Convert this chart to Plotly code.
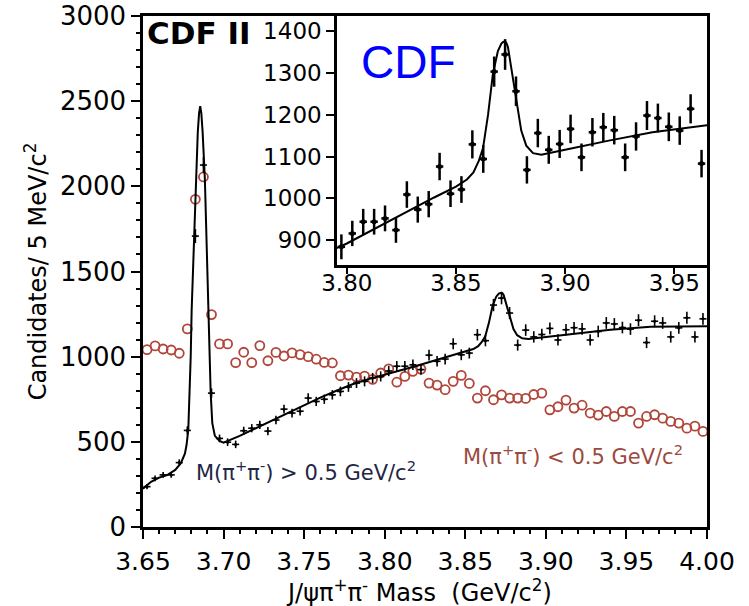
import numpy as np
import plotly.graph_objects as go

# 5 MeV/c^2 bins from 3.65 to 4.00 GeV/c^2
bin_edges = np.arange(3.65, 4.0001, 0.005)
mass = (bin_edges[:-1] + bin_edges[1:]) / 2

# Candidates per bin, M(pi+pi-) > 0.5 GeV/c^2
counts_high = [
    237, 286, 306, 306, 378, 567, 1708, 2125, 786, 520,
    498, 485, 565, 580, 600, 563, 628, 692, 669, 680,
    757, 737, 750, 776, 796, 822, 845, 855, 875, 884,
    916, 944, 944, 952, 924, 1009, 973, 986, 1076, 1011,
    1021, 1129, 1094, 1303, 1344, 1256, 1068, 1156, 1116, 1130,
    1166, 1098, 1158, 1170, 1163, 1098, 1148, 1198, 1192, 1171,
    1162, 1214, 1083, 1208, 1198, 1116, 1169, 1228, 1116, 1222,
]

# Candidates per bin, M(pi+pi-) < 0.5 GeV/c^2
counts_low = [
    1041, 1063, 1045, 1039, 1020, 1163, 1924, 2055, 1247, 1075,
    1075, 965, 1026, 965, 1065, 976, 1025, 1004, 1022, 1012,
    1000, 985, 966, 963, 888, 892, 880, 886, 867, 904,
    928, 850, 884, 914, 927, 845, 833, 806, 855, 890,
    843, 757, 800, 747, 776, 757, 757, 755, 778, 786,
    688, 706, 745, 698, 715, 669, 657, 678, 649, 678,
    678, 610, 649, 659, 639, 620, 610, 580, 592, 561,
]

# Fitted line shape for the M(pi+pi-) > 0.5 sample
fit_mass = [
    3.650, 3.655, 3.660, 3.665, 3.670, 3.6735, 3.676, 3.677, 3.6781, 3.6790,
    3.6796, 3.6802, 3.6808, 3.6818, 3.6826, 3.6840, 3.6848, 3.6855, 3.6862, 3.6870,
    3.6884, 3.6892, 3.6902, 3.6908, 3.6914, 3.6920, 3.6930, 3.6946, 3.6975, 3.700,
    3.710, 3.720, 3.730, 3.740, 3.750, 3.760, 3.770, 3.780, 3.790, 3.800,
    3.810, 3.820, 3.830, 3.840, 3.850, 3.855, 3.858, 3.8605, 3.8624, 3.8647,
    3.8669, 3.8692, 3.8708, 3.8716, 3.8723, 3.8730, 3.8738, 3.8753, 3.8776, 3.8799,
    3.8822, 3.8853, 3.8891, 3.895, 3.900, 3.920, 3.940, 3.965, 3.980, 4.000,
]
fit_counts = [
    225, 265, 290, 305, 335, 375, 430, 480, 570, 786,
    1000, 1276, 1453, 1750, 2041, 2320, 2430, 2470, 2430, 2320,
    2041, 1750, 1453, 1276, 1000, 786, 610, 535, 505, 495,
    535, 580, 625, 670, 715, 760, 800, 838, 868, 892,
    920, 947, 975, 1002, 1028, 1045, 1062, 1090, 1120, 1200,
    1297, 1352, 1370, 1374, 1375, 1373, 1362, 1313, 1233, 1162,
    1126, 1108, 1104, 1110, 1116, 1138, 1158, 1175, 1177, 1178,
]

errors_high = np.sqrt(counts_high)

FONT = "DejaVu Sans"
INK = "black"
RED = "#b0453a"

fig = go.Figure()

# ---- main panel ----
fig.add_trace(go.Scatter(
    x=mass, y=counts_low, mode="markers",
    marker=dict(symbol="circle-open", size=9, color=RED, line=dict(width=1.8, color=RED)),
    xaxis="x", yaxis="y", hoverinfo="skip",
))
fig.add_trace(go.Scatter(
    x=fit_mass, y=fit_counts, mode="lines",
    line=dict(color=INK, width=2),
    xaxis="x", yaxis="y", hoverinfo="skip",
))
fig.add_trace(go.Scatter(
    x=mass, y=counts_high, mode="markers",
    marker=dict(size=3, color=INK),
    error_y=dict(type="data", array=errors_high, width=0, thickness=1.6, color=INK),
    error_x=dict(type="constant", value=0.0022, width=0, thickness=1.6, color=INK),
    xaxis="x", yaxis="y", hoverinfo="skip",
))

# ---- inset: zoom on 3.80 - 3.965 ----
fig.add_trace(go.Scatter(
    x=fit_mass, y=fit_counts, mode="lines",
    line=dict(color=INK, width=2),
    xaxis="x2", yaxis="y2", hoverinfo="skip", cliponaxis=True,
))
fig.add_trace(go.Scatter(
    x=mass, y=counts_high, mode="markers",
    marker=dict(size=5, color=INK),
    error_y=dict(type="data", array=errors_high, width=0, thickness=2.5, color=INK),
    error_x=dict(type="constant", value=0.0017, width=0, thickness=2.5, color=INK),
    xaxis="x2", yaxis="y2", hoverinfo="skip", cliponaxis=True,
))

inset_x = [3.7955, 3.965]
inset_y = [840.5, 1436]

# white backing for the inset, drawn in the inset's own layer
fig.add_shape(type="rect", xref="x2", yref="y2",
              x0=inset_x[0], x1=inset_x[1], y0=inset_y[0], y1=inset_y[1],
              fillcolor="white", line=dict(width=0), layer="below")

axis_common = dict(
    showgrid=False, zeroline=False, showline=True, linecolor=INK,
    ticks="outside", tickcolor=INK,
)

fig.update_layout(
    width=749, height=606,
    margin=dict(l=143, r=42, t=16, b=79),
    paper_bgcolor="white", plot_bgcolor="white",
    showlegend=False,
    font=dict(family=FONT, color=INK),
    xaxis=dict(
        **axis_common, domain=[0, 1], range=[3.65, 4.0],
        tick0=3.65, dtick=0.05, tickformat=".2f",
        linewidth=2.5, mirror=True, ticklen=9, tickwidth=2,
        tickfont=dict(size=25, family=FONT), ticklabelstandoff=1,
        minor=dict(dtick=0.01, ticks="outside", ticklen=4, tickwidth=1.5, tickcolor=INK, showgrid=False),
        automargin=False,
    ),
    yaxis=dict(
        **axis_common, domain=[0, 1], range=[0, 3000],
        tick0=0, dtick=500,
        linewidth=2.5, mirror=True, ticklen=9, tickwidth=2,
        tickfont=dict(size=26, family=FONT),
        minor=dict(dtick=100, ticks="outside", ticklen=4, tickwidth=1.5, tickcolor=INK, showgrid=False),
        automargin=False,
    ),
    xaxis2=dict(
        **axis_common, domain=[0.344, 1.0], range=inset_x, anchor="y2",
        tick0=3.80, dtick=0.05, tickformat=".2f",
        linewidth=2.5, mirror=True, ticklen=6, tickwidth=2,
        tickfont=dict(size=23, family=FONT), ticklabelstandoff=-10,
        automargin=False,
    ),
    yaxis2=dict(
        **axis_common, domain=[0.5127, 1.0], range=inset_y, anchor="x2",
        tick0=900, dtick=100,
        linewidth=2.5, mirror=True, ticklen=8, tickwidth=2,
        tickfont=dict(size=23, family=FONT),
        automargin=False,
    ),
)

# axis titles
fig.add_annotation(
    text="J/ψπ<sup>+</sup>π<sup>-</sup> Mass&nbsp; (GeV/c<sup>2</sup>)",
    xref="paper", yref="paper", x=0.49, y=-0.125,
    xanchor="center", yanchor="middle", showarrow=False,
    font=dict(size=24, family=FONT, color=INK),
)
fig.add_annotation(
    text="Candidates/ 5 MeV/c<sup>2</sup>",
    xref="paper", yref="paper", x=-0.19, y=0.5,
    xanchor="center", yanchor="middle", showarrow=False, textangle=-90,
    font=dict(size=24, family=FONT, color=INK),
)

fig.add_annotation(
    text="<b>CDF II</b>", xref="paper", yref="paper", x=0.004, y=0.967,
    xanchor="left", yanchor="middle", showarrow=False,
    font=dict(size=31, family=FONT, color=INK),
)
fig.add_annotation(
    text="CDF", xref="paper", yref="paper", x=0.383, y=0.91,
    xanchor="left", yanchor="middle", showarrow=False,
    font=dict(size=46, family="Liberation Sans", color="#0000ff"),
)
fig.add_annotation(
    text="M(π<sup>+</sup>π<sup>-</sup>) > 0.5 GeV/c<sup>2</sup>",
    xref="paper", yref="paper", x=0.09, y=0.11,
    xanchor="left", yanchor="middle", showarrow=False,
    font=dict(size=21, family=FONT, color="#1f2644"),
)
fig.add_annotation(
    text="M(π<sup>+</sup>π<sup>-</sup>) < 0.5 GeV/c<sup>2</sup>",
    xref="paper", yref="paper", x=0.563, y=0.141,
    xanchor="left", yanchor="middle", showarrow=False,
    font=dict(size=21, family=FONT, color="#9c4a40"),
)

fig.write_html("out.html")
